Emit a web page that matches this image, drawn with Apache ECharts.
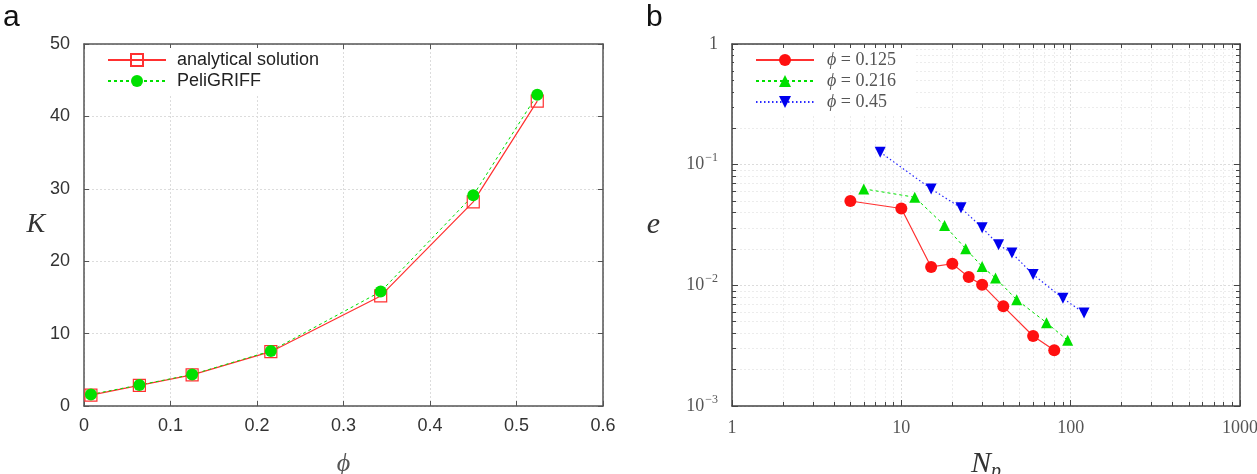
<!DOCTYPE html>
<html>
<head>
<meta charset="utf-8">
<script src="https://cdn.jsdelivr.net/npm/echarts@6/dist/echarts.min.js"></script>
<style>
  html, body { margin: 0; padding: 0; background: #fff; }
  #main { width: 1257px; height: 474px; }
</style>
</head>
<body>
<div id="main"></div>
<script>
// panel a: permeability K against solid fraction phi
var phi = [0.008, 0.064, 0.125, 0.216, 0.343, 0.45, 0.524];
var kAnalytical = [1.5, 2.85, 4.3, 7.5, 15.2, 28.2, 42.1];
var kPeligriff = [1.6, 2.9, 4.35, 7.6, 15.8, 29.1, 43.0];

// panel b: error e against number of points Np
var np125 = [5, 10, 15, 20, 25, 30, 40, 60, 80];
var e125 = [0.050, 0.0433, 0.0142, 0.0151, 0.0117, 0.0101, 0.0067, 0.0038, 0.0029];
var np216 = [6, 12, 18, 24, 30, 36, 48, 72, 96];
var e216 = [0.063, 0.0537, 0.0313, 0.0201, 0.0143, 0.0115, 0.0076, 0.0049, 0.0035];
var np45 = [7.5, 15, 22.5, 30, 37.5, 45, 60, 90, 120];
var e45 = [0.127, 0.063, 0.0439, 0.030, 0.0217, 0.0185, 0.0123, 0.0078, 0.0059];

var sans = "Liberation Sans, Arial, sans-serif";
var serif = "Liberation Serif, DejaVu Serif, serif";

function pairs(xs, ys) {
  return xs.map(function (x, i) { return [x, ys[i]]; });
}

var chartDom = document.getElementById("main");
var myChart = echarts.init(chartDom);

var gridLine = { show: true, lineStyle: { color: "#dcdcdc", width: 1, type: [2, 2] } };
var minorLine = { show: true, lineStyle: { color: "#ececec", width: 1, type: [2, 2] } };
var axisLineA = { show: true, onZero: false, lineStyle: { color: "#555", width: 1.5 } };
var axisLineB = { show: true, onZero: false, lineStyle: { color: "#444", width: 1.5 } };

function logLabel(v) {
  if (Math.abs(v - 1) < 1e-9) return "{b|1}";
  var p = Math.round(Math.log10(v));
  if (p >= 0) return "{b|" + Math.round(v) + "}";
  return "{b|10}{s|\u2212" + (-p) + "}";
}

var option = {
  animation: false,
  backgroundColor: "#fff",
  graphic: [
    { type: "text", left: 3, top: 3, style: { text: "a", font: "30px " + sans, fill: "#111" } },
    { type: "text", left: 646, top: 3, style: { text: "b", font: "30px " + sans, fill: "#111" } }
  ],
  grid: [
    { left: 84, top: 44, width: 519, height: 362, containLabel: false, outerBoundsMode: "none" },
    { left: 732, top: 44, width: 508, height: 362, containLabel: false, outerBoundsMode: "none" }
  ],
  legend: [
    {
      data: ["analytical solution", "PeliGRIFF"],
      orient: "vertical",
      left: 86,
      top: 48,
      padding: [3, 14, 5, 21],
      backgroundColor: "#fff",
      itemWidth: 58,
      itemHeight: 15,
      itemGap: 3,
      textStyle: { fontFamily: sans, fontSize: 18, color: "#222", lineHeight: 17, padding: [0, 0, 0, 6] }
    },
    {
      data: ["0.125", "0.216", "0.45"],
      orient: "vertical",
      left: 734,
      top: 48,
      padding: [3, 20, 4, 21],
      backgroundColor: "#fff",
      itemWidth: 58,
      itemHeight: 15,
      itemGap: 3,
      formatter: function (name) { return "{i|\u03d5} = " + name; },
      textStyle: {
        fontFamily: serif, fontSize: 18, color: "#555", lineHeight: 17, padding: [0, 0, 0, 8],
        rich: { i: { fontFamily: serif, fontStyle: "italic", fontSize: 18, color: "#555", lineHeight: 17 } }
      }
    }
  ],
  xAxis: [
    {
      gridIndex: 0, type: "value", min: 0, max: 0.6, interval: 0.1,
      axisLine: axisLineA,
      axisTick: { show: true, inside: true, length: 5, lineStyle: { color: "#555" } },
      axisLabel: { fontFamily: sans, fontSize: 18, color: "#333", margin: 11 },
      splitLine: gridLine,
      name: "\u03d5", nameLocation: "middle", nameGap: 45,
      nameTextStyle: { fontFamily: serif, fontStyle: "italic", fontSize: 26, color: "#555" }
    },
    {
      gridIndex: 0, type: "value", min: 0, max: 0.6, interval: 0.1, position: "top",
      axisLine: axisLineA,
      axisTick: { show: true, inside: true, length: 5, lineStyle: { color: "#555" } },
      axisLabel: { show: false }, splitLine: { show: false }
    },
    {
      gridIndex: 1, type: "log", logBase: 10, min: 1, max: 1000,
      axisLine: axisLineB,
      axisTick: { show: true, inside: true, length: 6, lineStyle: { color: "#444" } },
      minorTick: { show: true, splitNumber: 9, length: 4, lineStyle: { color: "#444" } },
      axisLabel: {
        formatter: logLabel, margin: 13,
        rich: { b: { fontFamily: serif, fontSize: 18, color: "#555" } }
      },
      splitLine: gridLine,
      minorSplitLine: minorLine,
      name: "{n|N}{p|p}", nameLocation: "middle", nameGap: 40,
      nameTextStyle: {
        rich: {
          n: { fontFamily: serif, fontStyle: "italic", fontSize: 30, color: "#333" },
          p: { fontFamily: serif, fontStyle: "italic", fontSize: 20, color: "#333", padding: [16, 0, 0, 0] }
        }
      }
    },
    {
      gridIndex: 1, type: "log", logBase: 10, min: 1, max: 1000, position: "top",
      axisLine: axisLineB,
      axisTick: { show: true, inside: true, length: 6, lineStyle: { color: "#444" } },
      minorTick: { show: true, splitNumber: 9, length: 4, lineStyle: { color: "#444" } },
      axisLabel: { show: false }, splitLine: { show: false }
    }
  ],
  yAxis: [
    {
      gridIndex: 0, type: "value", min: 0, max: 50, interval: 10,
      axisLine: axisLineA,
      axisTick: { show: true, inside: true, length: 5, lineStyle: { color: "#555" } },
      axisLabel: { fontFamily: sans, fontSize: 18, color: "#333", margin: 14 },
      splitLine: gridLine,
      name: "K", nameLocation: "middle", nameRotate: 0, nameGap: 26,
      nameTextStyle: { fontFamily: serif, fontStyle: "italic", fontSize: 28, color: "#333", padding: [6, 0, 0, 0] }
    },
    {
      gridIndex: 0, type: "value", min: 0, max: 50, interval: 10, position: "right",
      axisLine: axisLineA,
      axisTick: { show: true, inside: true, length: 5, lineStyle: { color: "#555" } },
      axisLabel: { show: false }, splitLine: { show: false }
    },
    {
      gridIndex: 1, type: "log", logBase: 10, min: 0.001, max: 1,
      axisLine: axisLineB,
      axisTick: { show: true, inside: true, length: 6, lineStyle: { color: "#444" } },
      minorTick: { show: true, splitNumber: 9, length: 4, lineStyle: { color: "#444" } },
      axisLabel: {
        formatter: logLabel, margin: 14,
        rich: {
          b: { fontFamily: serif, fontSize: 18, color: "#555" },
          s: { fontFamily: serif, fontSize: 12, color: "#555", padding: [0, 0, 13, 1] }
        }
      },
      splitLine: gridLine,
      minorSplitLine: minorLine,
      name: "e", nameLocation: "middle", nameRotate: 0, nameGap: 72,
      nameTextStyle: { fontFamily: serif, fontStyle: "italic", fontSize: 30, color: "#333" }
    },
    {
      gridIndex: 1, type: "log", logBase: 10, min: 0.001, max: 1, position: "right",
      axisLine: axisLineB,
      axisTick: { show: true, inside: true, length: 6, lineStyle: { color: "#444" } },
      minorTick: { show: true, splitNumber: 9, length: 4, lineStyle: { color: "#444" } },
      axisLabel: { show: false }, splitLine: { show: false }
    }
  ],
  series: [
    {
      name: "analytical solution", type: "line", xAxisIndex: 0, yAxisIndex: 0,
      data: pairs(phi, kAnalytical),
      symbol: "rect", symbolSize: 12,
      itemStyle: { color: "rgba(255,255,255,0)", borderColor: "#ff3030", borderWidth: 1.2 },
      lineStyle: { color: "#ff3030", width: 1.2, type: "solid" }
    },
    {
      name: "PeliGRIFF", type: "line", xAxisIndex: 0, yAxisIndex: 0,
      data: pairs(phi, kPeligriff),
      symbol: "circle", symbolSize: 12,
      itemStyle: { color: "#00e000", borderWidth: 0 },
      lineStyle: { color: "#00e000", width: 1, type: [3, 3] }
    },
    {
      name: "0.125", type: "line", xAxisIndex: 2, yAxisIndex: 2,
      data: pairs(np125, e125),
      symbol: "circle", symbolSize: 12,
      itemStyle: { color: "#ff1010", borderWidth: 0 },
      lineStyle: { color: "#ff3030", width: 1.2, type: "solid" }
    },
    {
      name: "0.216", type: "line", xAxisIndex: 2, yAxisIndex: 2,
      data: pairs(np216, e216),
      symbol: "triangle", symbolSize: 11,
      itemStyle: { color: "#00e000", borderWidth: 0 },
      lineStyle: { color: "#00e000", width: 1, type: [3, 3] }
    },
    {
      name: "0.45", type: "line", xAxisIndex: 2, yAxisIndex: 2,
      data: pairs(np45, e45),
      symbol: "triangle", symbolRotate: 180, symbolSize: 11,
      itemStyle: { color: "#0000ee", borderWidth: 0 },
      lineStyle: { color: "#2a2aff", width: 1.2, type: [1.5, 2.5] }
    }
  ]
};

option && myChart.setOption(option);
</script>
</body>
</html>
